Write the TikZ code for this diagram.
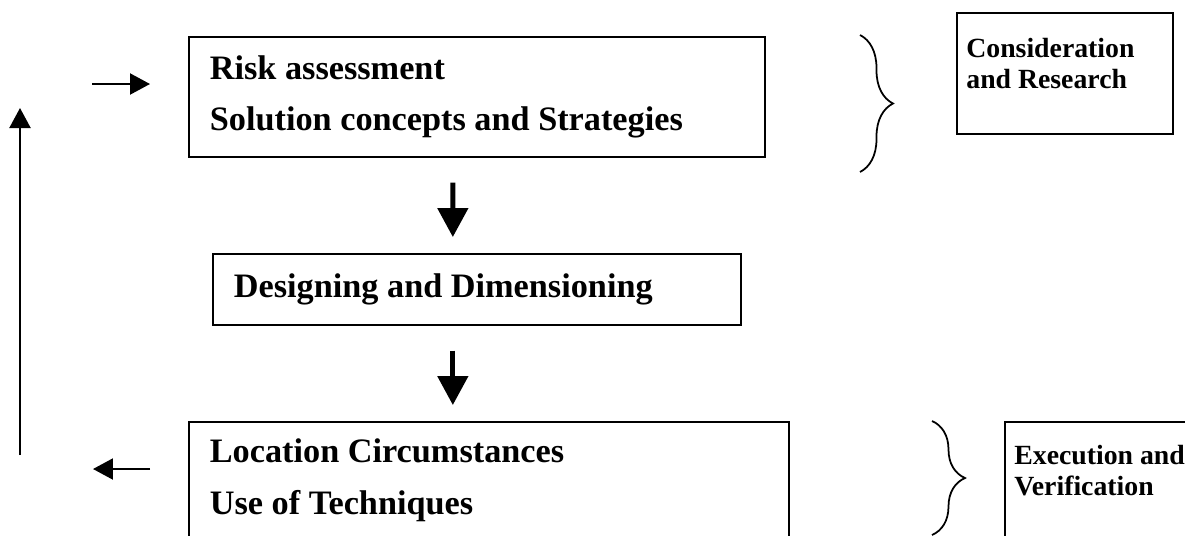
\documentclass[tikz,border=0pt]{standalone}
\usepackage{fontspec}
\setmainfont{Liberation Serif}
\usetikzlibrary{arrows.meta,decorations.pathreplacing}

\tikzset{
  stagebox/.style  = {shape=rectangle, draw, line width=1pt, align=flush left,
                      anchor=north west, inner xsep=0.42cm, inner ysep=0pt,
                      font=\bfseries\fontsize{19.5}{29.5}\selectfont},
  sidebox/.style   = {shape=rectangle, draw, line width=1pt, anchor=north west},
  sidetext/.style  = {align=flush left, inner sep=0pt, anchor=north west,
                      font=\bfseries\fontsize{15.8}{17.5}\selectfont},
  bigarrow/.style  = {draw, line width=2.8pt,
                      -{Triangle[width=0.6cm,length=0.58cm]},
                      shorten <=0.5cm, shorten >=0.32cm},
  thinarrow/.style = {draw, line width=1.2pt,
                      -{Triangle[width=0.42cm,length=0.4cm]}},
  bracket/.style   = {decorate, decoration={brace, amplitude=0.66cm},
                      line width=1pt}
}

\begin{document}
\begin{tikzpicture}[x=0.02cm, y=-0.02cm]
\useasboundingbox (0,0) rectangle (1185,535);
\clip (0,0) rectangle (1185,535);

\node[stagebox, minimum width=11.52cm, minimum height=2.4cm, text width=10.68cm]
  (risk) at (188,36) {Risk assessment\\Solution concepts and Strategies};
\node[stagebox, minimum width=10.56cm, minimum height=1.42cm, text width=9.72cm]
  (design) at (212,253) {Designing and Dimensioning};
\node[stagebox, minimum width=12cm, minimum height=2.34cm, text width=11.16cm]
  (loc) at (188,421) {Location Circumstances\\Use of Techniques};

\node[sidebox, minimum width=4.32cm, minimum height=2.42cm] (consid) at (956,12) {};
\node[sidetext] (considtxt) at (966,38) {Consideration\\and Research};
\node[sidebox, minimum width=4.02cm, minimum height=2.34cm] (exec) at (1004,421) {};
\node[sidetext] (exectxt) at (1014,445) {Execution and\\Verification};

\draw[bigarrow] ([xshift=-0.48cm]risk.south) -- ([xshift=-0.48cm]design.north);
\draw[bigarrow] ([xshift=-0.48cm]design.south)
  -- ([xshift=-0.48cm]design.south |- loc.north);

\coordinate (feedin) at (92,84);
\coordinate (feedout) at (93,469);
\coordinate (loopS) at (20,455);
\coordinate (loopN) at (20,108);
\draw[thinarrow, shorten >=0.76cm] (feedin) -- (feedin -| risk.west);
\draw[thinarrow, shorten <=0.76cm] (feedout -| loc.west) -- (feedout);
\draw[thinarrow] (loopS) -- (loopN);

\coordinate (braceAtop) at (860,35);
\coordinate (braceAbot) at (860,172);
\coordinate (braceBtop) at (932,421);
\coordinate (braceBbot) at (932,535);
\draw[bracket] (braceAtop) -- (braceAbot);
\draw[bracket] (braceBtop) -- (braceBbot);
\end{tikzpicture}
\end{document}
